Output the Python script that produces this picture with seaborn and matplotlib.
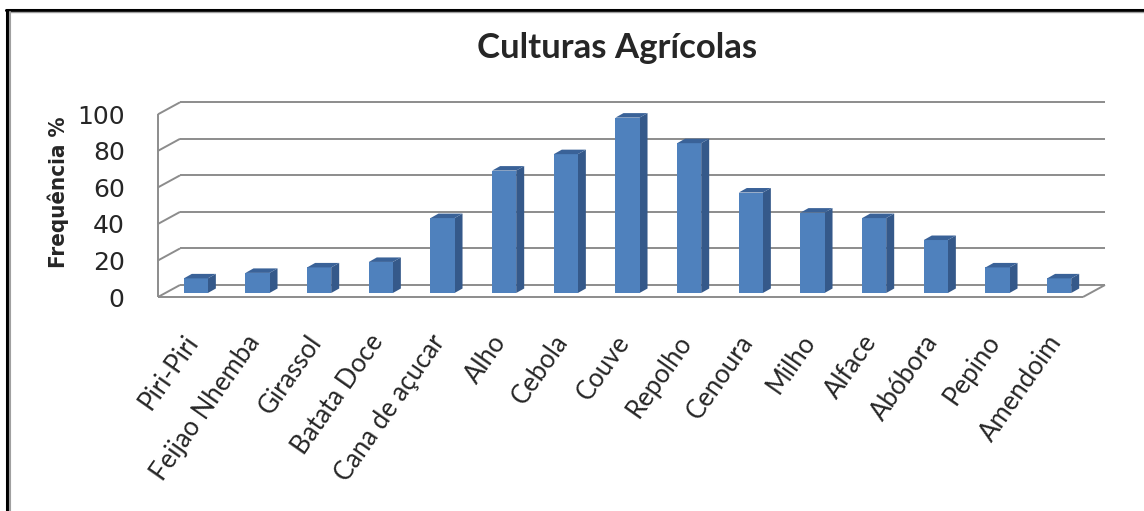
import matplotlib
matplotlib.use("Agg")
import matplotlib.pyplot as plt
from matplotlib.patches import Polygon
from matplotlib.lines import Line2D
from matplotlib.transforms import ScaledTranslation
import numpy as np
import pandas as pd
import seaborn as sns

# Crop frequencies (%)
culturas = ["Piri-Piri", "Feijao Nhemba", "Girassol", "Batata Doce",
            "Cana de açucar", "Alho", "Cebola", "Couve", "Repolho",
            "Cenoura", "Milho", "Alface", "Abóbora", "Pepino", "Amendoim"]
frequencia = [8, 11, 14, 17, 41, 67, 76, 96, 82, 55, 44, 41, 29, 14, 8]
y_ticks = [0, 20, 40, 60, 80, 100]

titulo = "Culturas Agrícolas"
rotulo_y = "Frequência %"

sns.set_theme(style="white")
plt.rcParams["font.family"] = ["Lato", "DejaVu Sans"]

W, H = 1144, 511
fig = plt.figure(figsize=(W / 100, H / 100), dpi=100)
fig.patch.set_facecolor("white")

# axes = the plane of the bar fronts
ax = fig.add_axes([165 / W, (H - 293) / H, 925 / W, 182.7 / H])
df = pd.DataFrame({"cultura": culturas, "freq": frequencia})
sns.barplot(data=df, x="cultura", y="freq", color="#4F81BD", saturation=1,
            width=0.39, ax=ax, zorder=3, linewidth=0)
ax.set_xlim(-0.5, len(culturas) - 0.5)
ax.set_ylim(0, 100)
ax.set_xlabel("")
ax.set_ylabel("")
for s in ax.spines.values():
    s.set_visible(False)
ax.set_facecolor("none")


def px(dx, dy):
    """Pixel offset -> data offset."""
    inv = ax.transData.inverted()
    o = ax.transData.transform((0, 0))
    d = inv.transform(o + np.array([dx, dy]))
    return d[0], d[1]


bx, by = px(15, 8)      # back wall
fx, fy = px(-7, -4)     # front edge of floor / side wall
dx, dy = px(8, 4.5)     # bar depth

x_lo, x_hi = -0.5, len(culturas) - 0.5
grid_kw = dict(color="#8c8c8c", lw=1.4, clip_on=False, zorder=1,
               solid_capstyle="butt")
for v in y_ticks:
    ax.plot([x_lo + bx, x_hi + bx], [v + by, v + by], **grid_kw)
    ax.plot([x_lo + fx, x_lo + bx], [v + fy, v + by], **grid_kw)
ax.plot([x_lo + fx, x_lo + fx], [fy, 100 + fy], **grid_kw)
ax.plot([x_lo + fx, x_hi + fx], [fy, fy], **grid_kw)
ax.plot([x_hi + fx, x_hi + bx], [fy, by], **grid_kw)

# side and top faces of each bar
for p in list(ax.patches):
    x0, w, h = p.get_x(), p.get_width(), p.get_height()
    side = [(x0 + w, 0), (x0 + w, h), (x0 + w + dx, h + dy), (x0 + w + dx, dy)]
    top = [(x0, h), (x0 + w, h), (x0 + w + dx, h + dy), (x0 + dx, h + dy)]
    ax.add_patch(Polygon(side, closed=True, facecolor="#35598A",
                         edgecolor="none", zorder=2.9, clip_on=False))
    ax.add_patch(Polygon(top, closed=True, facecolor="#3A6298",
                         edgecolor="none", zorder=3.1, clip_on=False))

# tick labels
ax.set_yticks(y_ticks)
ax.set_yticklabels([str(v) for v in y_ticks], family=["DejaVu Sans"],
                   fontsize=18)
ax.tick_params(axis="y", length=0, pad=29)
for lab in ax.get_yticklabels():
    lab.set_transform(lab.get_transform() +
                      ScaledTranslation(0, -4 / 100, fig.dpi_scale_trans))

ax.set_xticks(range(len(culturas)))
ax.set_xticklabels(culturas, rotation=55, ha="right", va="center",
                   rotation_mode="anchor", fontsize=18.5)
ax.tick_params(axis="x", length=0, pad=32)
for lab in ax.get_xticklabels():
    lab.set_transform(lab.get_transform() +
                      ScaledTranslation(-3 / 100, 0, fig.dpi_scale_trans))

fig.text(617 / W, 1 - 48 / H, titulo, ha="center", va="center",
         fontsize=25, fontweight="bold")
fig.text(58 / W, 1 - 192 / H, rotulo_y, ha="center", va="center",
         rotation=90, fontsize=16, fontweight="bold",
         family=["DejaVu Sans"], fontstretch="condensed")

# frame of the chart area
fig.add_artist(Line2D([6 / W, 1], [1 - 10 / H, 1 - 10 / H],
                      transform=fig.transFigure, color="black", lw=2.2))
fig.add_artist(Line2D([7 / W, 7 / W], [0, 1 - 10 / H],
                      transform=fig.transFigure, color="black", lw=2.2))
fig.add_artist(Line2D([9.5 / W, 1], [1 - 12 / H, 1 - 12 / H],
                      transform=fig.transFigure, color="#a0a0a0", lw=1))
fig.add_artist(Line2D([9.5 / W, 9.5 / W], [0, 1 - 12 / H],
                      transform=fig.transFigure, color="#a0a0a0", lw=1.5))

fig.savefig("out.png", dpi=100, facecolor="white")
